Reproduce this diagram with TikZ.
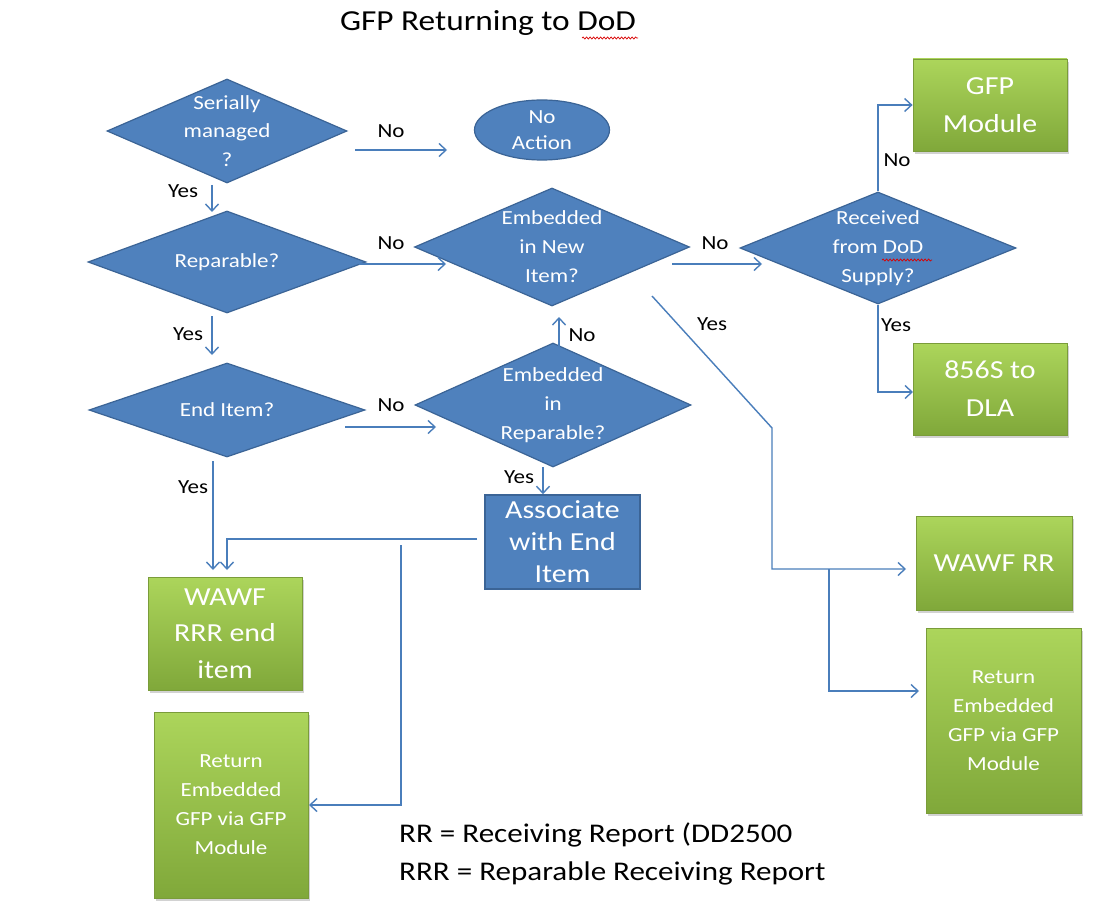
\documentclass[tikz,border=0pt]{standalone}
\usepackage{fontspec}
\setmainfont{Carlito}[FakeStretch=1.15]
\usetikzlibrary{shapes.geometric,arrows.meta,calc,decorations.pathmorphing,shadows}
\definecolor{dblue}{HTML}{4F81BD}
\definecolor{dborder}{HTML}{3B6496}
\definecolor{lblue}{HTML}{4A7EBB}
\definecolor{gtop}{HTML}{ACD55B}
\definecolor{gbot}{HTML}{80A83A}
\definecolor{gborder}{HTML}{7A9C3A}
\tikzset{
  dia/.style={shape=diamond, draw=dborder, line width=1.2pt, fill=dblue, inner sep=0pt},
  dtext/.style={text=white, align=center, font=\fontsize{20}{28.5}\selectfont},
  gbox/.style={shape=rectangle, draw=gborder, line width=0.8pt, top color=gtop, bottom color=gbot,
     text=white, align=center, inner sep=0pt, drop shadow={shadow xshift=2pt, shadow yshift=-3pt, opacity=0.35}},
  bbox/.style={shape=rectangle, draw=dborder, line width=1.5pt, fill=dblue, text=white, align=center, inner sep=0pt},
  arr/.style={draw=lblue, line width=1.4pt, -{Straight Barb[length=7pt,width=13pt,line width=1.4pt]}},
  ln/.style={draw=lblue, line width=1.4pt},
  lab/.style={text=black, font=\fontsize{20}{24}\selectfont, inner sep=0pt},
  squig/.style={draw=red!85!black, line width=0.7pt, decorate, decoration={snake, amplitude=1pt, segment length=3.5pt}},
}
\begin{document}
\begin{tikzpicture}[x=1pt,y=-1pt]
\useasboundingbox (0,0) rectangle (1108,901);
\fill[white] (0,0) rectangle (1108,901);

% title
\node[font=\fontsize{29}{34}\selectfont, text=black, inner sep=0pt] (title) at (488,23) {GFP Returning to DoD};
\draw[squig] (582,38) -- (638,38);

% diamonds
\node[dia, minimum width=240, minimum height=104] (d1) at (227,131) {};
\node[dtext] at (d1) {Serially\\managed\\?};
\node[dia, minimum width=278, minimum height=102] (d2) at (227,262) {};
\node[dtext] at (d2) {Reparable?};
\node[dia, minimum width=275, minimum height=118] (d3) at (552,247) {};
\node[dtext, font=\fontsize{20}{29}\selectfont] at (d3) {Embedded\\in New\\Item?};
\node[dia, minimum width=276, minimum height=112] (d4) at (878,248) {};
\node[dtext, font=\fontsize{20}{29}\selectfont] (d4t) at (d4) {Received\\from DoD\\Supply?};
\draw[squig] (882,260) -- (932,260);
\node[dia, minimum width=276, minimum height=94] (d5) at (227,410) {};
\node[dtext] at (d5) {End Item?};
\node[dia, minimum width=276, minimum height=124] (d6) at (553,405) {};
\node[dtext, font=\fontsize{20}{29}\selectfont] at (d6) {Embedded\\in\\Reparable?};

% ellipse
\node[ellipse, draw=dborder, line width=1.2pt, fill=dblue, minimum width=135, minimum height=60, inner sep=0pt,
  text=white, align=center, font=\fontsize{20}{26}\selectfont] (na) at (542,130) {No\\Action};

% green boxes
\node[gbox, minimum width=154, minimum height=92, font=\fontsize{26}{38}\selectfont] (gfpm) at (990,105) {GFP\\Module};
\node[gbox, minimum width=154, minimum height=92, font=\fontsize{26}{38}\selectfont] (dla) at (990,389) {856S to\\DLA};
\node[gbox, minimum width=156, minimum height=94, font=\fontsize{26}{32}\selectfont] (wrr) at (994,563) {WAWF RR};
\node[gbox, minimum width=155, minimum height=185, font=\fontsize{20}{29}\selectfont] (ret2) at (1003.5,720.5) {Return\\Embedded\\GFP via GFP\\Module};
\node[gbox, minimum width=154, minimum height=113, font=\fontsize{26}{36.5}\selectfont] (wrrr) at (225,633.5) {WAWF\\RRR end\\item};
\node[gbox, minimum width=154, minimum height=186, font=\fontsize{20}{29}\selectfont] (ret1) at (231,805) {Return\\Embedded\\GFP via GFP\\Module};

% associate box
\node[bbox, minimum width=155, minimum height=94, font=\fontsize{26}{32}\selectfont] (assoc) at (562.5,542) {Associate\\with End\\Item};

% connectors
\coordinate (c1) at (355,150);
\draw[arr] (c1) -- (447,150);
\node[lab] at (391,131) {No};

\draw[arr] (212,185) -- (212,212);
\node[lab] at (183,191) {Yes};

\draw[arr] (359,264) -- (446,264);
\node[lab] at (391,243) {No};

\draw[arr] (672,264) -- (762,264);
\node[lab] at (715,243) {No};

\draw[arr] (d4.north) |- (gfpm.west);
\node[lab] at (897,160) {No};

\draw[arr] (d4.south) |- (913,392);
\node[lab] at (896,325) {Yes};

\draw[arr] (212,316) -- (212,355);
\node[lab] at (188,334) {Yes};

\draw[arr] (345,427) -- (436,427);
\node[lab] at (391,405) {No};

\draw[arr] (559,347) -- (559,317);
\node[lab] at (582,335) {No};

\draw[arr] (543,467) -- (assoc.north -| 543,0);
\node[lab] at (519,477) {Yes};

\draw[arr] (477,539) -| (227,570);

\draw[arr] (213,461) -- (213,570);
\node[lab] at (193,487) {Yes};

\draw[arr] (401,545) |- (309,805);

\coordinate (j1) at (772,428);
\coordinate (j2) at (829,569);
\draw[arr] (652,296) -- (j1) |- (906,569);
\node[lab] at (712,324) {Yes};
\draw[arr] (j2) |- (919,691);

% legend
\node[anchor=west, text=black, font=\fontsize{27}{30}\selectfont, inner sep=0pt] (leg1) at (399,835) {RR = Receiving Report (DD2500};
\node[anchor=west, text=black, font=\fontsize{27}{30}\selectfont, inner sep=0pt] (leg2) at (399,873) {RRR = Reparable Receiving Report};
\end{tikzpicture}
\end{document}
